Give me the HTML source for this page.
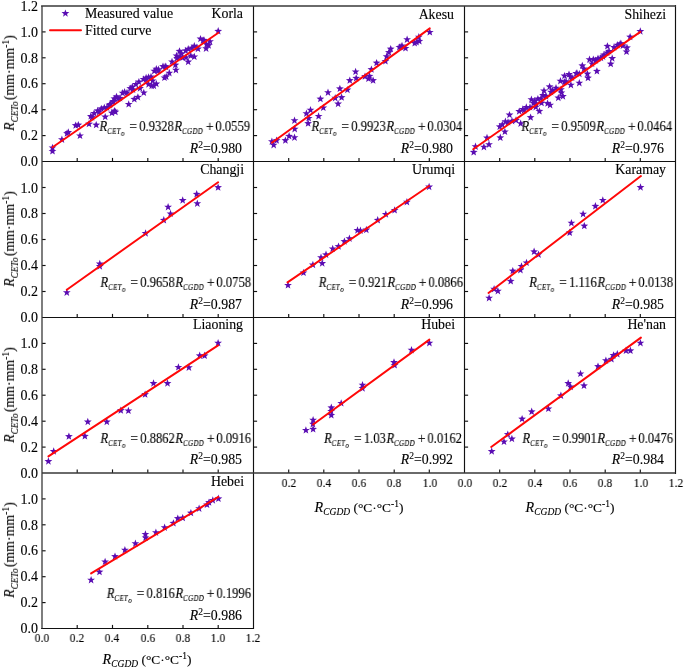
<!DOCTYPE html>
<html><head><meta charset="utf-8"><title>fig</title>
<style>
html,body{margin:0;padding:0;background:#fff;}
body{width:685px;height:670px;position:relative;overflow:hidden;font-family:"Liberation Serif",serif;color:#000;}
.t{position:absolute;white-space:nowrap;will-change:transform;-webkit-text-stroke:0.12px #000;font-size:13.8px;line-height:16px;}
.nm{font-size:13.85px;}
.ax{font-size:13.85px;}
.tky{font-size:14px;}
.tkx{font-size:13.0px;}
.ax sub{font-size:11.2px;vertical-align:-2.8px;line-height:0;}
.xt{font-size:13.4px;}
.xt i{font-size:14.2px;}
.xt sub{font-size:9.3px;vertical-align:-3px;}
.xt sub i{font-size:9.5px;}
.xt sup{font-size:9px;}
.ax sup{font-size:9.5px;vertical-align:5px;line-height:0;}
.ax sub.ys{font-size:9.3px;vertical-align:-3.9px;}
.eq{font-size:13.6px;color:#000;transform-origin:100% 100%;-webkit-text-stroke:0.12px #000;}
.eq sub.s1a{letter-spacing:0.05px;}
.eq sub.s1b{letter-spacing:0.7px;}
.op1,.op2{font-size:15px;line-height:0;}
.op1{margin:0 2.4px 0 5.0px;}
.op2{margin:0 2.0px 0 2.9px;}
.r2i{margin-left:0.6px;}
.eq sub.s1{font-size:7.5px;vertical-align:-3.3px;line-height:0;letter-spacing:0.35px;}
.eq sub.s2{font-size:7.4px;vertical-align:-2.1px;line-height:0;}
.r2 sup{font-size:9.5px;vertical-align:5px;line-height:0;}
</style></head><body>
<svg width="685" height="670" viewBox="0 0 685 670" style="position:absolute;left:0;top:0">
<rect width="685" height="670" fill="#fff"/>
<g fill="#5a0db3">
<polygon points="52.5,143.8 53.5,146.4 56.4,146.5 54.1,148.3 54.9,151.1 52.5,149.5 50.1,151.1 50.9,148.3 48.6,146.5 51.5,146.4"/>
<polygon points="52.5,147.2 53.5,149.9 56.4,150.0 54.1,151.8 54.9,154.6 52.5,153.0 50.1,154.6 50.9,151.8 48.6,150.0 51.5,149.9"/>
<polygon points="61.9,135.5 62.9,138.2 65.8,138.3 63.5,140.1 64.3,142.9 61.9,141.3 59.5,142.9 60.3,140.1 58.0,138.3 60.9,138.2"/>
<polygon points="68.3,128.2 69.3,130.9 72.2,131.0 69.9,132.8 70.7,135.6 68.3,134.0 65.9,135.6 66.7,132.8 64.4,131.0 67.3,130.9"/>
<polygon points="67.0,129.4 68.0,132.1 70.9,132.2 68.6,134.0 69.4,136.8 67.0,135.2 64.6,136.8 65.4,134.0 63.1,132.2 66.0,132.1"/>
<polygon points="75.7,121.5 76.7,124.1 79.6,124.2 77.3,126.0 78.1,128.8 75.7,127.2 73.3,128.8 74.1,126.0 71.8,124.2 74.7,124.1"/>
<polygon points="78.3,121.0 79.3,123.6 82.2,123.7 79.9,125.5 80.7,128.3 78.3,126.7 75.9,128.3 76.7,125.5 74.4,123.7 77.3,123.6"/>
<polygon points="80.0,131.8 81.0,134.4 83.9,134.5 81.6,136.3 82.4,139.1 80.0,137.5 77.6,139.1 78.4,136.3 76.1,134.5 79.0,134.4"/>
<polygon points="89.0,120.0 90.0,122.6 92.9,122.7 90.6,124.5 91.4,127.3 89.0,125.7 86.6,127.3 87.4,124.5 85.1,122.7 88.0,122.6"/>
<polygon points="90.8,112.2 91.8,114.9 94.7,115.0 92.4,116.8 93.2,119.6 90.8,118.0 88.4,119.6 89.2,116.8 86.9,115.0 89.8,114.9"/>
<polygon points="96.2,121.0 97.2,123.6 100.1,123.7 97.8,125.5 98.6,128.3 96.2,126.7 93.8,128.3 94.6,125.5 92.3,123.7 95.2,123.6"/>
<polygon points="94.1,109.2 95.1,111.9 98.0,112.0 95.7,113.8 96.5,116.6 94.1,115.0 91.7,116.6 92.5,113.8 90.2,112.0 93.1,111.9"/>
<polygon points="97.7,106.7 98.7,109.3 101.6,109.4 99.3,111.2 100.1,114.0 97.7,112.4 95.3,114.0 96.1,111.2 93.8,109.4 96.7,109.3"/>
<polygon points="101.3,104.7 102.3,107.3 105.2,107.4 102.9,109.2 103.7,112.0 101.3,110.4 98.9,112.0 99.7,109.2 97.4,107.4 100.3,107.3"/>
<polygon points="104.3,103.7 105.3,106.3 108.2,106.4 105.9,108.2 106.7,111.0 104.3,109.4 101.9,111.0 102.7,108.2 100.4,106.4 103.3,106.3"/>
<polygon points="105.2,112.9 106.2,115.5 109.1,115.6 106.8,117.4 107.6,120.2 105.2,118.6 102.8,120.2 103.6,117.4 101.3,115.6 104.2,115.5"/>
<polygon points="109.4,101.0 110.4,103.7 113.3,103.8 111.0,105.6 111.8,108.4 109.4,106.8 107.0,108.4 107.8,105.6 105.5,103.8 108.4,103.7"/>
<polygon points="111.9,109.0 112.9,111.6 115.8,111.7 113.5,113.5 114.3,116.3 111.9,114.7 109.5,116.3 110.3,113.5 108.0,111.7 110.9,111.6"/>
<polygon points="114.4,107.0 115.4,109.6 118.3,109.7 116.0,111.5 116.8,114.3 114.4,112.7 112.0,114.3 112.8,111.5 110.5,109.7 113.4,109.6"/>
<polygon points="115.4,108.0 116.4,110.6 119.3,110.7 117.0,112.5 117.8,115.3 115.4,113.7 113.0,115.3 113.8,112.5 111.5,110.7 114.4,110.6"/>
<polygon points="110.3,100.2 111.3,102.9 114.2,103.0 111.9,104.8 112.7,107.6 110.3,106.0 107.9,107.6 108.7,104.8 106.4,103.0 109.3,102.9"/>
<polygon points="114.4,94.7 115.4,97.3 118.3,97.4 116.0,99.2 116.8,102.0 114.4,100.4 112.0,102.0 112.8,99.2 110.5,97.4 113.4,97.3"/>
<polygon points="116.5,92.7 117.5,95.3 120.4,95.4 118.1,97.2 118.9,100.0 116.5,98.4 114.1,100.0 114.9,97.2 112.6,95.4 115.5,95.3"/>
<polygon points="118.0,94.7 119.0,97.3 121.9,97.4 119.6,99.2 120.4,102.0 118.0,100.4 115.6,102.0 116.4,99.2 114.1,97.4 117.0,97.3"/>
<polygon points="113.4,97.2 114.4,99.9 117.3,100.0 115.0,101.8 115.8,104.6 113.4,103.0 111.0,104.6 111.8,101.8 109.5,100.0 112.4,99.9"/>
<polygon points="122.6,89.0 123.6,91.7 126.5,91.8 124.2,93.6 125.0,96.4 122.6,94.8 120.2,96.4 121.0,93.6 118.7,91.8 121.6,91.7"/>
<polygon points="124.6,88.0 125.6,90.7 128.5,90.8 126.2,92.6 127.0,95.4 124.6,93.8 122.2,95.4 123.0,92.6 120.7,90.8 123.6,90.7"/>
<polygon points="128.7,100.2 129.7,102.9 132.6,103.0 130.3,104.8 131.1,107.6 128.7,106.0 126.3,107.6 127.1,104.8 124.8,103.0 127.7,102.9"/>
<polygon points="130.3,84.5 131.3,87.1 134.2,87.2 131.9,89.0 132.7,91.8 130.3,90.2 127.9,91.8 128.7,89.0 126.4,87.2 129.3,87.1"/>
<polygon points="132.3,83.0 133.3,85.6 136.2,85.7 133.9,87.5 134.7,90.3 132.3,88.7 129.9,90.3 130.7,87.5 128.4,85.7 131.3,85.6"/>
<polygon points="134.3,95.2 135.3,97.8 138.2,97.9 135.9,99.7 136.7,102.5 134.3,100.9 131.9,102.5 132.7,99.7 130.4,97.9 133.3,97.8"/>
<polygon points="137.9,93.2 138.9,95.8 141.8,95.9 139.5,97.7 140.3,100.5 137.9,98.9 135.5,100.5 136.3,97.7 134.0,95.9 136.9,95.8"/>
<polygon points="135.9,80.4 136.9,83.0 139.8,83.1 137.5,84.9 138.3,87.7 135.9,86.1 133.5,87.7 134.3,84.9 132.0,83.1 134.9,83.0"/>
<polygon points="138.9,77.9 139.9,80.5 142.8,80.6 140.5,82.4 141.3,85.2 138.9,83.6 136.5,85.2 137.3,82.4 135.0,80.6 137.9,80.5"/>
<polygon points="143.8,88.8 144.8,91.4 147.7,91.5 145.4,93.3 146.2,96.1 143.8,94.5 141.4,96.1 142.2,93.3 139.9,91.5 142.8,91.4"/>
<polygon points="143.5,75.2 144.5,77.9 147.4,78.0 145.1,79.8 145.9,82.6 143.5,81.0 141.1,82.6 141.9,79.8 139.6,78.0 142.5,77.9"/>
<polygon points="146.1,73.8 147.1,76.4 150.0,76.5 147.7,78.3 148.5,81.1 146.1,79.5 143.7,81.1 144.5,78.3 142.2,76.5 145.1,76.4"/>
<polygon points="148.6,73.2 149.6,75.9 152.5,76.0 150.2,77.8 151.0,80.6 148.6,79.0 146.2,80.6 147.0,77.8 144.7,76.0 147.6,75.9"/>
<polygon points="148.6,80.4 149.6,83.0 152.5,83.1 150.2,84.9 151.0,87.7 148.6,86.1 146.2,87.7 147.0,84.9 144.7,83.1 147.6,83.0"/>
<polygon points="151.7,81.9 152.7,84.5 155.6,84.6 153.3,86.4 154.1,89.2 151.7,87.6 149.3,89.2 150.1,86.4 147.8,84.6 150.7,84.5"/>
<polygon points="153.8,81.9 154.8,84.5 157.7,84.6 155.4,86.4 156.2,89.2 153.8,87.6 151.4,89.2 152.2,86.4 149.9,84.6 152.8,84.5"/>
<polygon points="156.3,79.9 157.3,82.5 160.2,82.6 157.9,84.4 158.7,87.2 156.3,85.6 153.9,87.2 154.7,84.4 152.4,82.6 155.3,82.5"/>
<polygon points="152.7,76.8 153.7,79.4 156.6,79.5 154.3,81.3 155.1,84.1 152.7,82.5 150.3,84.1 151.1,81.3 148.8,79.5 151.7,79.4"/>
<polygon points="154.3,67.0 155.3,69.7 158.2,69.8 155.9,71.6 156.7,74.4 154.3,72.8 151.9,74.4 152.7,71.6 150.4,69.8 153.3,69.7"/>
<polygon points="156.3,65.0 157.3,67.7 160.2,67.8 157.9,69.6 158.7,72.4 156.3,70.8 153.9,72.4 154.7,69.6 152.4,67.8 155.3,67.7"/>
<polygon points="158.4,65.5 159.4,68.2 162.3,68.3 160.0,70.1 160.8,72.9 158.4,71.3 156.0,72.9 156.8,70.1 154.5,68.3 157.4,68.2"/>
<polygon points="163.0,62.5 164.0,65.1 166.9,65.2 164.6,67.0 165.4,69.8 163.0,68.2 160.6,69.8 161.4,67.0 159.1,65.2 162.0,65.1"/>
<polygon points="164.5,73.8 165.5,76.4 168.4,76.5 166.1,78.3 166.9,81.1 164.5,79.5 162.1,81.1 162.9,78.3 160.6,76.5 163.5,76.4"/>
<polygon points="218.2,27.1 219.2,29.8 222.1,29.9 219.8,31.7 220.6,34.5 218.2,32.9 215.8,34.5 216.6,31.7 214.3,29.9 217.2,29.8"/>
<polygon points="200.5,34.9 201.5,37.5 204.4,37.6 202.1,39.4 202.9,42.2 200.5,40.6 198.1,42.2 198.9,39.4 196.6,37.6 199.5,37.5"/>
<polygon points="203.0,36.4 204.0,39.0 206.9,39.1 204.6,40.9 205.4,43.7 203.0,42.1 200.6,43.7 201.4,40.9 199.1,39.1 202.0,39.0"/>
<polygon points="206.6,40.5 207.6,43.1 210.5,43.2 208.2,45.0 209.0,47.8 206.6,46.2 204.2,47.8 205.0,45.0 202.7,43.2 205.6,43.1"/>
<polygon points="208.6,41.5 209.6,44.1 212.5,44.2 210.2,46.0 211.0,48.8 208.6,47.2 206.2,48.8 207.0,46.0 204.7,44.2 207.6,44.1"/>
<polygon points="206.1,44.6 207.1,47.2 210.0,47.3 207.7,49.1 208.5,51.9 206.1,50.3 203.7,51.9 204.5,49.1 202.2,47.3 205.1,47.2"/>
<polygon points="194.3,42.1 195.3,44.7 198.2,44.8 195.9,46.6 196.7,49.4 194.3,47.8 191.9,49.4 192.7,46.6 190.4,44.8 193.3,44.7"/>
<polygon points="196.9,43.6 197.9,46.2 200.8,46.3 198.5,48.1 199.3,50.9 196.9,49.3 194.5,50.9 195.3,48.1 193.0,46.3 195.9,46.2"/>
<polygon points="188.2,45.1 189.2,47.7 192.1,47.8 189.8,49.6 190.6,52.4 188.2,50.8 185.8,52.4 186.6,49.6 184.3,47.8 187.2,47.7"/>
<polygon points="185.7,46.7 186.7,49.3 189.6,49.4 187.3,51.2 188.1,54.0 185.7,52.4 183.3,54.0 184.1,51.2 181.8,49.4 184.7,49.3"/>
<polygon points="179.5,47.2 180.5,49.8 183.4,49.9 181.1,51.7 181.9,54.5 179.5,52.9 177.1,54.5 177.9,51.7 175.6,49.9 178.5,49.8"/>
<polygon points="181.6,49.7 182.6,52.3 185.5,52.4 183.2,54.2 184.0,57.0 181.6,55.4 179.2,57.0 180.0,54.2 177.7,52.4 180.6,52.3"/>
<polygon points="176.5,51.8 177.5,54.4 180.4,54.5 178.1,56.3 178.9,59.1 176.5,57.5 174.1,59.1 174.9,56.3 172.6,54.5 175.5,54.4"/>
<polygon points="177.0,54.2 178.0,56.9 180.9,57.0 178.6,58.8 179.4,61.6 177.0,60.0 174.6,61.6 175.4,58.8 173.1,57.0 176.0,56.9"/>
<polygon points="190.8,51.8 191.8,54.4 194.7,54.5 192.4,56.3 193.2,59.1 190.8,57.5 188.4,59.1 189.2,56.3 186.9,54.5 189.8,54.4"/>
<polygon points="194.3,52.8 195.3,55.4 198.2,55.5 195.9,57.3 196.7,60.1 194.3,58.5 191.9,60.1 192.7,57.3 190.4,55.5 193.3,55.4"/>
<polygon points="188.2,57.9 189.2,60.5 192.1,60.6 189.8,62.4 190.6,65.2 188.2,63.6 185.8,65.2 186.6,62.4 184.3,60.6 187.2,60.5"/>
<polygon points="165.2,62.5 166.2,65.1 169.1,65.2 166.8,67.0 167.6,69.8 165.2,68.2 162.8,69.8 163.6,67.0 161.3,65.2 164.2,65.1"/>
<polygon points="175.4,61.0 176.4,63.6 179.3,63.7 177.0,65.5 177.8,68.3 175.4,66.7 173.0,68.3 173.8,65.5 171.5,63.7 174.4,63.6"/>
<polygon points="175.9,66.0 176.9,68.7 179.8,68.8 177.5,70.6 178.3,73.4 175.9,71.8 173.5,73.4 174.3,70.6 172.0,68.8 174.9,68.7"/>
<polygon points="169.3,69.0 170.3,71.7 173.2,71.8 170.9,73.6 171.7,76.4 169.3,74.8 166.9,76.4 167.7,73.6 165.4,71.8 168.3,71.7"/>
<polygon points="166.2,72.7 167.2,75.3 170.1,75.4 167.8,77.2 168.6,80.0 166.2,78.4 163.8,80.0 164.6,77.2 162.3,75.4 165.2,75.3"/>
<polygon points="182.6,53.8 183.6,56.4 186.5,56.5 184.2,58.3 185.0,61.1 182.6,59.5 180.2,61.1 181.0,58.3 178.7,56.5 181.6,56.4"/>
<polygon points="92.0,113.5 93.0,116.1 95.9,116.2 93.6,118.0 94.4,120.8 92.0,119.2 89.6,120.8 90.4,118.0 88.1,116.2 91.0,116.1"/>
<polygon points="99.0,108.0 100.0,110.7 102.9,110.8 100.6,112.6 101.4,115.4 99.0,113.8 96.6,115.4 97.4,112.6 95.1,110.8 98.0,110.7"/>
<polygon points="107.0,103.5 108.0,106.2 110.9,106.3 108.6,108.1 109.4,110.9 107.0,109.3 104.6,110.9 105.4,108.1 103.1,106.3 106.0,106.2"/>
<polygon points="113.0,98.0 114.0,100.6 116.9,100.7 114.6,102.5 115.4,105.3 113.0,103.7 110.6,105.3 111.4,102.5 109.1,100.7 112.0,100.6"/>
<polygon points="120.0,94.2 121.0,96.8 123.9,96.9 121.6,98.7 122.4,101.5 120.0,99.9 117.6,101.5 118.4,98.7 116.1,96.9 119.0,96.8"/>
<polygon points="127.0,88.8 128.0,91.4 130.9,91.5 128.6,93.3 129.4,96.1 127.0,94.5 124.6,96.1 125.4,93.3 123.1,91.5 126.0,91.4"/>
<polygon points="133.0,85.7 134.0,88.3 136.9,88.4 134.6,90.2 135.4,93.0 133.0,91.4 130.6,93.0 131.4,90.2 129.1,88.4 132.0,88.3"/>
<polygon points="140.0,84.4 141.0,87.0 143.9,87.1 141.6,88.9 142.4,91.7 140.0,90.1 137.6,91.7 138.4,88.9 136.1,87.1 139.0,87.0"/>
<polygon points="146.0,75.7 147.0,78.3 149.9,78.4 147.6,80.2 148.4,83.0 146.0,81.4 143.6,83.0 144.4,80.2 142.1,78.4 145.0,78.3"/>
<polygon points="151.0,72.8 152.0,75.4 154.9,75.5 152.6,77.3 153.4,80.1 151.0,78.5 148.6,80.1 149.4,77.3 147.1,75.5 150.0,75.4"/>
<polygon points="158.0,67.0 159.0,69.6 161.9,69.7 159.6,71.5 160.4,74.3 158.0,72.7 155.6,74.3 156.4,71.5 154.1,69.7 157.0,69.6"/>
<polygon points="166.0,62.9 167.0,65.5 169.9,65.6 167.6,67.4 168.4,70.2 166.0,68.6 163.6,70.2 164.4,67.4 162.1,65.6 165.0,65.5"/>
<polygon points="172.0,57.8 173.0,60.4 175.9,60.5 173.6,62.3 174.4,65.1 172.0,63.5 169.6,65.1 170.4,62.3 168.1,60.5 171.0,60.4"/>
<polygon points="180.0,52.8 181.0,55.4 183.9,55.5 181.6,57.3 182.4,60.1 180.0,58.5 177.6,60.1 178.4,57.3 176.1,55.5 179.0,55.4"/>
<polygon points="186.0,53.6 187.0,56.2 189.9,56.3 187.6,58.1 188.4,60.9 186.0,59.3 183.6,60.9 184.4,58.1 182.1,56.3 185.0,56.2"/>
<polygon points="192.0,44.0 193.0,46.6 195.9,46.7 193.6,48.5 194.4,51.3 192.0,49.7 189.6,51.3 190.4,48.5 188.1,46.7 191.0,46.6"/>
<polygon points="198.0,44.9 199.0,47.5 201.9,47.6 199.6,49.4 200.4,52.2 198.0,50.6 195.6,52.2 196.4,49.4 194.1,47.6 197.0,47.5"/>
<polygon points="204.0,36.2 205.0,38.8 207.9,38.9 205.6,40.7 206.4,43.5 204.0,41.9 201.6,43.5 202.4,40.7 200.1,38.9 203.0,38.8"/>
<polygon points="210.0,37.6 211.0,40.2 213.9,40.3 211.6,42.1 212.4,44.9 210.0,43.3 207.6,44.9 208.4,42.1 206.1,40.3 209.0,40.2"/>
</g>
<line x1="52.5" y1="147.2" x2="218.4" y2="32.8" stroke="#ff0808" stroke-width="1.95" stroke-linecap="round"/>
<g fill="#5a0db3">
<polygon points="271.9,137.5 272.9,140.2 275.8,140.3 273.5,142.1 274.3,144.9 271.9,143.3 269.5,144.9 270.3,142.1 268.0,140.3 270.9,140.2"/>
<polygon points="276.6,136.4 277.6,139.1 280.5,139.2 278.2,141.0 279.0,143.8 276.6,142.2 274.2,143.8 275.0,141.0 272.7,139.2 275.6,139.1"/>
<polygon points="273.7,141.0 274.7,143.7 277.6,143.8 275.3,145.6 276.1,148.4 273.7,146.8 271.3,148.4 272.1,145.6 269.8,143.8 272.7,143.7"/>
<polygon points="285.4,136.4 286.4,139.1 289.3,139.2 287.0,141.0 287.8,143.8 285.4,142.2 283.0,143.8 283.8,141.0 281.5,139.2 284.4,139.1"/>
<polygon points="289.1,132.1 290.1,134.8 293.0,134.9 290.7,136.7 291.5,139.5 289.1,137.9 286.7,139.5 287.5,136.7 285.2,134.9 288.1,134.8"/>
<polygon points="294.5,133.5 295.5,136.2 298.4,136.3 296.1,138.1 296.9,140.9 294.5,139.3 292.1,140.9 292.9,138.1 290.6,136.3 293.5,136.2"/>
<polygon points="294.7,125.0 295.7,127.7 298.6,127.8 296.3,129.6 297.1,132.4 294.7,130.8 292.3,132.4 293.1,129.6 290.8,127.8 293.7,127.7"/>
<polygon points="294.5,116.5 295.5,119.2 298.4,119.3 296.1,121.1 296.9,123.9 294.5,122.3 292.1,123.9 292.9,121.1 290.6,119.3 293.5,119.2"/>
<polygon points="308.1,119.5 309.1,122.1 312.0,122.2 309.7,124.0 310.5,126.8 308.1,125.2 305.7,126.8 306.5,124.0 304.2,122.2 307.1,122.1"/>
<polygon points="308.7,114.2 309.7,116.9 312.6,117.0 310.3,118.8 311.1,121.6 308.7,120.0 306.3,121.6 307.1,118.8 304.8,117.0 307.7,116.9"/>
<polygon points="306.4,109.5 307.4,112.2 310.3,112.3 308.0,114.1 308.8,116.9 306.4,115.3 304.0,116.9 304.8,114.1 302.5,112.3 305.4,112.2"/>
<polygon points="310.5,106.0 311.5,108.7 314.4,108.8 312.1,110.6 312.9,113.4 310.5,111.8 308.1,113.4 308.9,110.6 306.6,108.8 309.5,108.7"/>
<polygon points="318.6,112.2 319.6,114.9 322.5,115.0 320.2,116.8 321.0,119.6 318.6,118.0 316.2,119.6 317.0,116.8 314.7,115.0 317.6,114.9"/>
<polygon points="323.3,103.8 324.3,106.4 327.2,106.5 324.9,108.3 325.7,111.1 323.3,109.5 320.9,111.1 321.7,108.3 319.4,106.5 322.3,106.4"/>
<polygon points="320.4,95.0 321.4,97.6 324.3,97.7 322.0,99.5 322.8,102.3 320.4,100.7 318.0,102.3 318.8,99.5 316.5,97.7 319.4,97.6"/>
<polygon points="328.0,88.5 329.0,91.2 331.9,91.3 329.6,93.1 330.4,95.9 328.0,94.3 325.6,95.9 326.4,93.1 324.1,91.3 327.0,91.2"/>
<polygon points="335.2,94.0 336.2,96.7 339.1,96.8 336.8,98.6 337.6,101.4 335.2,99.8 332.8,101.4 333.6,98.6 331.3,96.8 334.2,96.7"/>
<polygon points="341.6,93.5 342.6,96.1 345.5,96.2 343.2,98.0 344.0,100.8 341.6,99.2 339.2,100.8 340.0,98.0 337.7,96.2 340.6,96.1"/>
<polygon points="338.1,99.9 339.1,102.5 342.0,102.6 339.7,104.4 340.5,107.2 338.1,105.6 335.7,107.2 336.5,104.4 334.2,102.6 337.1,102.5"/>
<polygon points="339.9,84.7 340.9,87.3 343.8,87.4 341.5,89.2 342.3,92.0 339.9,90.4 337.5,92.0 338.3,89.2 336.0,87.4 338.9,87.3"/>
<polygon points="347.4,85.9 348.4,88.5 351.3,88.6 349.0,90.4 349.8,93.2 347.4,91.6 345.0,93.2 345.8,90.4 343.5,88.6 346.4,88.5"/>
<polygon points="349.8,76.5 350.8,79.1 353.7,79.2 351.4,81.0 352.2,83.8 349.8,82.2 347.4,83.8 348.2,81.0 345.9,79.2 348.8,79.1"/>
<polygon points="355.6,67.8 356.6,70.4 359.5,70.5 357.2,72.3 358.0,75.1 355.6,73.5 353.2,75.1 354.0,72.3 351.7,70.5 354.6,70.4"/>
<polygon points="356.2,74.2 357.2,76.8 360.1,76.9 357.8,78.7 358.6,81.5 356.2,79.9 353.8,81.5 354.6,78.7 352.3,76.9 355.2,76.8"/>
<polygon points="365.0,72.5 366.0,75.1 368.9,75.2 366.6,77.0 367.4,79.8 365.0,78.2 362.6,79.8 363.4,77.0 361.1,75.2 364.0,75.1"/>
<polygon points="368.5,74.8 369.5,77.4 372.4,77.5 370.1,79.3 370.9,82.1 368.5,80.5 366.1,82.1 366.9,79.3 364.6,77.5 367.5,77.4"/>
<polygon points="373.1,76.5 374.1,79.1 377.0,79.2 374.7,81.0 375.5,83.8 373.1,82.2 370.7,83.8 371.5,81.0 369.2,79.2 372.1,79.1"/>
<polygon points="371.4,65.5 372.4,68.1 375.3,68.2 373.0,70.0 373.8,72.8 371.4,71.2 369.0,72.8 369.8,70.0 367.5,68.2 370.4,68.1"/>
<polygon points="376.6,59.0 377.6,61.6 380.5,61.7 378.2,63.5 379.0,66.3 376.6,64.7 374.2,66.3 375.0,63.5 372.7,61.7 375.6,61.6"/>
<polygon points="385.4,57.2 386.4,59.9 389.3,60.0 387.0,61.8 387.8,64.6 385.4,63.0 383.0,64.6 383.8,61.8 381.5,60.0 384.4,59.9"/>
<polygon points="386.6,52.6 387.6,55.2 390.5,55.3 388.2,57.1 389.0,59.9 386.6,58.3 384.2,59.9 385.0,57.1 382.7,55.3 385.6,55.2"/>
<polygon points="388.9,48.5 389.9,51.1 392.8,51.2 390.5,53.0 391.3,55.8 388.9,54.2 386.5,55.8 387.3,53.0 385.0,51.2 387.9,51.1"/>
<polygon points="390.7,45.0 391.7,47.6 394.6,47.7 392.3,49.5 393.1,52.3 390.7,50.7 388.3,52.3 389.1,49.5 386.8,47.7 389.7,47.6"/>
<polygon points="399.4,43.2 400.4,45.9 403.3,46.0 401.0,47.8 401.8,50.6 399.4,49.0 397.0,50.6 397.8,47.8 395.5,46.0 398.4,45.9"/>
<polygon points="402.0,41.8 403.0,44.4 405.9,44.5 403.6,46.3 404.4,49.1 402.0,47.5 399.6,49.1 400.4,46.3 398.1,44.5 401.0,44.4"/>
<polygon points="405.5,44.2 406.5,46.9 409.4,47.0 407.1,48.8 407.9,51.6 405.5,50.0 403.1,51.6 403.9,48.8 401.6,47.0 404.5,46.9"/>
<polygon points="407.1,35.6 408.1,38.2 411.0,38.3 408.7,40.1 409.5,42.9 407.1,41.3 404.7,42.9 405.5,40.1 403.2,38.3 406.1,38.2"/>
<polygon points="418.8,33.1 419.8,35.7 422.7,35.8 420.4,37.6 421.2,40.4 418.8,38.8 416.4,40.4 417.2,37.6 414.9,35.8 417.8,35.7"/>
<polygon points="419.3,37.2 420.3,39.8 423.2,39.9 420.9,41.7 421.7,44.5 419.3,42.9 416.9,44.5 417.7,41.7 415.4,39.9 418.3,39.8"/>
<polygon points="414.7,39.2 415.7,41.8 418.6,41.9 416.3,43.7 417.1,46.5 414.7,44.9 412.3,46.5 413.1,43.7 410.8,41.9 413.7,41.8"/>
<polygon points="429.8,28.2 430.8,30.9 433.7,31.0 431.4,32.8 432.2,35.6 429.8,34.0 427.4,35.6 428.2,32.8 425.9,31.0 428.8,30.9"/>
<polygon points="401.0,43.0 402.0,45.6 404.9,45.7 402.6,47.5 403.4,50.3 401.0,48.7 398.6,50.3 399.4,47.5 397.1,45.7 400.0,45.6"/>
<polygon points="416.5,38.2 417.5,40.9 420.4,41.0 418.1,42.8 418.9,45.6 416.5,44.0 414.1,45.6 414.9,42.8 412.6,41.0 415.5,40.9"/>
<polygon points="369.5,72.2 370.5,74.8 373.4,74.9 371.1,76.7 371.9,79.5 369.5,77.9 367.1,79.5 367.9,76.7 365.6,74.9 368.5,74.8"/>
</g>
<line x1="271.9" y1="142.8" x2="429.8" y2="28.4" stroke="#ff0808" stroke-width="1.95" stroke-linecap="round"/>
<g fill="#5a0db3">
<polygon points="473.7,148.1 474.7,150.8 477.6,150.9 475.3,152.7 476.1,155.5 473.7,153.9 471.3,155.5 472.1,152.7 469.8,150.9 472.7,150.8"/>
<polygon points="483.9,143.0 484.9,145.7 487.8,145.8 485.5,147.6 486.3,150.4 483.9,148.8 481.5,150.4 482.3,147.6 480.0,145.8 482.9,145.7"/>
<polygon points="489.0,140.5 490.0,143.2 492.9,143.3 490.6,145.1 491.4,147.9 489.0,146.3 486.6,147.9 487.4,145.1 485.1,143.3 488.0,143.2"/>
<polygon points="487.0,133.8 488.0,136.5 490.9,136.6 488.6,138.4 489.4,141.2 487.0,139.6 484.6,141.2 485.4,138.4 483.1,136.6 486.0,136.5"/>
<polygon points="500.3,133.6 501.3,136.3 504.2,136.4 501.9,138.2 502.7,141.0 500.3,139.4 497.9,141.0 498.7,138.2 496.4,136.4 499.3,136.3"/>
<polygon points="504.9,127.8 505.9,130.4 508.8,130.5 506.5,132.3 507.3,135.1 504.9,133.5 502.5,135.1 503.3,132.3 501.0,130.5 503.9,130.4"/>
<polygon points="499.8,122.7 500.8,125.3 503.7,125.4 501.4,127.2 502.2,130.0 499.8,128.4 497.4,130.0 498.2,127.2 495.9,125.4 498.8,125.3"/>
<polygon points="502.3,120.5 503.3,123.2 506.2,123.3 503.9,125.1 504.7,127.9 502.3,126.3 499.9,127.9 500.7,125.1 498.4,123.3 501.3,123.2"/>
<polygon points="505.4,117.5 506.4,120.2 509.3,120.3 507.0,122.1 507.8,124.9 505.4,123.3 503.0,124.9 503.8,122.1 501.5,120.3 504.4,120.2"/>
<polygon points="509.5,110.9 510.5,113.5 513.4,113.6 511.1,115.4 511.9,118.2 509.5,116.6 507.1,118.2 507.9,115.4 505.6,113.6 508.5,113.5"/>
<polygon points="512.0,117.0 513.0,119.7 515.9,119.8 513.6,121.6 514.4,124.4 512.0,122.8 509.6,124.4 510.4,121.6 508.1,119.8 511.0,119.7"/>
<polygon points="520.7,119.5 521.7,122.2 524.6,122.3 522.3,124.1 523.1,126.9 520.7,125.3 518.3,126.9 519.1,124.1 516.8,122.3 519.7,122.2"/>
<polygon points="519.2,107.4 520.2,110.0 523.1,110.1 520.8,111.9 521.6,114.7 519.2,113.1 516.8,114.7 517.6,111.9 515.3,110.1 518.2,110.0"/>
<polygon points="522.8,105.2 523.8,107.9 526.7,108.0 524.4,109.8 525.2,112.6 522.8,111.0 520.4,112.6 521.2,109.8 518.9,108.0 521.8,107.9"/>
<polygon points="526.3,103.2 527.3,105.9 530.2,106.0 527.9,107.8 528.7,110.6 526.3,109.0 523.9,110.6 524.7,107.8 522.4,106.0 525.3,105.9"/>
<polygon points="530.6,113.5 531.6,116.1 534.5,116.2 532.2,118.0 533.0,120.8 530.6,119.2 528.2,120.8 529.0,118.0 526.7,116.2 529.6,116.1"/>
<polygon points="531.4,95.5 532.4,98.2 535.3,98.3 533.0,100.1 533.8,102.9 531.4,101.3 529.0,102.9 529.8,100.1 527.5,98.3 530.4,98.2"/>
<polygon points="533.5,99.2 534.5,101.8 537.4,101.9 535.1,103.7 535.9,106.5 533.5,104.9 531.1,106.5 531.9,103.7 529.6,101.9 532.5,101.8"/>
<polygon points="534.8,97.0 535.8,99.6 538.7,99.7 536.4,101.5 537.2,104.3 534.8,102.7 532.4,104.3 533.2,101.5 530.9,99.7 533.8,99.6"/>
<polygon points="537.9,94.9 538.9,97.5 541.8,97.6 539.5,99.4 540.3,102.2 537.9,100.6 535.5,102.2 536.3,99.4 534.0,97.6 536.9,97.5"/>
<polygon points="535.8,103.0 536.8,105.7 539.7,105.8 537.4,107.6 538.2,110.4 535.8,108.8 533.4,110.4 534.2,107.6 531.9,105.8 534.8,105.7"/>
<polygon points="539.4,107.2 540.4,109.8 543.3,109.9 541.0,111.7 541.8,114.5 539.4,112.9 537.0,114.5 537.8,111.7 535.5,109.9 538.4,109.8"/>
<polygon points="541.5,99.0 542.5,101.6 545.4,101.7 543.1,103.5 543.9,106.3 541.5,104.7 539.1,106.3 539.9,103.5 537.6,101.7 540.5,101.6"/>
<polygon points="544.0,86.8 545.0,89.4 547.9,89.5 545.6,91.3 546.4,94.1 544.0,92.5 541.6,94.1 542.4,91.3 540.1,89.5 543.0,89.4"/>
<polygon points="543.0,91.4 544.0,94.0 546.9,94.1 544.6,95.9 545.4,98.7 543.0,97.1 540.6,98.7 541.4,95.9 539.1,94.1 542.0,94.0"/>
<polygon points="547.6,99.5 548.6,102.1 551.5,102.2 549.2,104.0 550.0,106.8 547.6,105.2 545.2,106.8 546.0,104.0 543.7,102.2 546.6,102.1"/>
<polygon points="550.1,101.0 551.1,103.7 554.0,103.8 551.7,105.6 552.5,108.4 550.1,106.8 547.7,108.4 548.5,105.6 546.2,103.8 549.1,103.7"/>
<polygon points="549.6,82.7 550.6,85.3 553.5,85.4 551.2,87.2 552.0,90.0 549.6,88.4 547.2,90.0 548.0,87.2 545.7,85.4 548.6,85.3"/>
<polygon points="552.7,86.2 553.7,88.9 556.6,89.0 554.3,90.8 555.1,93.6 552.7,92.0 550.3,93.6 551.1,90.8 548.8,89.0 551.7,88.9"/>
<polygon points="558.3,93.9 559.3,96.5 562.2,96.6 559.9,98.4 560.7,101.2 558.3,99.6 555.9,101.2 556.7,98.4 554.4,96.6 557.3,96.5"/>
<polygon points="562.9,92.4 563.9,95.0 566.8,95.1 564.5,96.9 565.3,99.7 562.9,98.1 560.5,99.7 561.3,96.9 559.0,95.1 561.9,95.0"/>
<polygon points="561.4,88.8 562.4,91.4 565.3,91.5 563.0,93.3 563.8,96.1 561.4,94.5 559.0,96.1 559.8,93.3 557.5,91.5 560.4,91.4"/>
<polygon points="560.4,77.0 561.4,79.7 564.3,79.8 562.0,81.6 562.8,84.4 560.4,82.8 558.0,84.4 558.8,81.6 556.5,79.8 559.4,79.7"/>
<polygon points="564.5,78.0 565.5,80.7 568.4,80.8 566.1,82.6 566.9,85.4 564.5,83.8 562.1,85.4 562.9,82.6 560.6,80.8 563.5,80.7"/>
<polygon points="564.5,71.9 565.5,74.5 568.4,74.6 566.1,76.4 566.9,79.2 564.5,77.6 562.1,79.2 562.9,76.4 560.6,74.6 563.5,74.5"/>
<polygon points="569.0,70.4 570.0,73.0 572.9,73.1 570.6,74.9 571.4,77.7 569.0,76.1 566.6,77.7 567.4,74.9 565.1,73.1 568.0,73.0"/>
<polygon points="570.6,73.0 571.6,75.6 574.5,75.7 572.2,77.5 573.0,80.3 570.6,78.7 568.2,80.3 569.0,77.5 566.7,75.7 569.6,75.6"/>
<polygon points="570.9,81.0 571.9,83.7 574.8,83.8 572.5,85.6 573.3,88.4 570.9,86.8 568.5,88.4 569.3,85.6 567.0,83.8 569.9,83.7"/>
<polygon points="576.2,69.4 577.2,72.0 580.1,72.1 577.8,73.9 578.6,76.7 576.2,75.1 573.8,76.7 574.6,73.9 572.3,72.1 575.2,72.0"/>
<polygon points="579.3,69.9 580.3,72.5 583.2,72.6 580.9,74.4 581.7,77.2 579.3,75.6 576.9,77.2 577.7,74.4 575.4,72.6 578.3,72.5"/>
<polygon points="579.3,79.0 580.3,81.7 583.2,81.8 580.9,83.6 581.7,86.4 579.3,84.8 576.9,86.4 577.7,83.6 575.4,81.8 578.3,81.7"/>
<polygon points="582.3,61.7 583.3,64.3 586.2,64.4 583.9,66.2 584.7,69.0 582.3,67.4 579.9,69.0 580.7,66.2 578.4,64.4 581.3,64.3"/>
<polygon points="587.4,69.9 588.4,72.5 591.3,72.6 589.0,74.4 589.8,77.2 587.4,75.6 585.0,77.2 585.8,74.4 583.5,72.6 586.4,72.5"/>
<polygon points="588.0,74.0 589.0,76.6 591.9,76.7 589.6,78.5 590.4,81.3 588.0,79.7 585.6,81.3 586.4,78.5 584.1,76.7 587.0,76.6"/>
<polygon points="589.5,55.6 590.5,58.2 593.4,58.3 591.1,60.1 591.9,62.9 589.5,61.3 587.1,62.9 587.9,60.1 585.6,58.3 588.5,58.2"/>
<polygon points="640.3,27.3 641.3,30.0 644.2,30.1 641.9,31.9 642.7,34.7 640.3,33.1 637.9,34.7 638.7,31.9 636.4,30.1 639.3,30.0"/>
<polygon points="630.1,33.0 631.1,35.6 634.0,35.7 631.7,37.5 632.5,40.3 630.1,38.7 627.7,40.3 628.5,37.5 626.2,35.7 629.1,35.6"/>
<polygon points="627.0,43.7 628.0,46.3 630.9,46.4 628.6,48.2 629.4,51.0 627.0,49.4 624.6,51.0 625.4,48.2 623.1,46.4 626.0,46.3"/>
<polygon points="626.5,47.8 627.5,50.4 630.4,50.5 628.1,52.3 628.9,55.1 626.5,53.5 624.1,55.1 624.9,52.3 622.6,50.5 625.5,50.4"/>
<polygon points="617.3,41.1 618.3,43.7 621.2,43.8 618.9,45.6 619.7,48.4 617.3,46.8 614.9,48.4 615.7,45.6 613.4,43.8 616.3,43.7"/>
<polygon points="620.9,39.6 621.9,42.2 624.8,42.3 622.5,44.1 623.3,46.9 620.9,45.3 618.5,46.9 619.3,44.1 617.0,42.3 619.9,42.2"/>
<polygon points="622.9,41.7 623.9,44.3 626.8,44.4 624.5,46.2 625.3,49.0 622.9,47.4 620.5,49.0 621.3,46.2 619.0,44.4 621.9,44.3"/>
<polygon points="607.4,42.2 608.4,44.8 611.3,44.9 609.0,46.7 609.8,49.5 607.4,47.9 605.0,49.5 605.8,46.7 603.5,44.9 606.4,44.8"/>
<polygon points="607.1,48.8 608.1,51.4 611.0,51.5 608.7,53.3 609.5,56.1 607.1,54.5 604.7,56.1 605.5,53.3 603.2,51.5 606.1,51.4"/>
<polygon points="604.0,50.9 605.0,53.5 607.9,53.6 605.6,55.4 606.4,58.2 604.0,56.6 601.6,58.2 602.4,55.4 600.1,53.6 603.0,53.5"/>
<polygon points="612.2,54.4 613.2,57.0 616.1,57.1 613.8,58.9 614.6,61.7 612.2,60.1 609.8,61.7 610.6,58.9 608.3,57.1 611.2,57.0"/>
<polygon points="610.7,60.0 611.7,62.6 614.6,62.7 612.3,64.5 613.1,67.3 610.7,65.7 608.3,67.3 609.1,64.5 606.8,62.7 609.7,62.6"/>
<polygon points="600.9,53.9 601.9,56.5 604.8,56.6 602.5,58.4 603.3,61.2 600.9,59.6 598.5,61.2 599.3,58.4 597.0,56.6 599.9,56.5"/>
<polygon points="593.3,55.5 594.3,58.1 597.2,58.2 594.9,60.0 595.7,62.8 593.3,61.2 590.9,62.8 591.7,60.0 589.4,58.2 592.3,58.1"/>
<polygon points="595.8,56.5 596.8,59.1 599.7,59.2 597.4,61.0 598.2,63.8 595.8,62.2 593.4,63.8 594.2,61.0 591.9,59.2 594.8,59.1"/>
<polygon points="596.9,67.2 597.9,69.8 600.8,69.9 598.5,71.7 599.3,74.5 596.9,72.9 594.5,74.5 595.3,71.7 593.0,69.9 595.9,69.8"/>
<polygon points="475.5,142.5 476.5,145.2 479.4,145.3 477.1,147.1 477.9,149.9 475.5,148.3 473.1,149.9 473.9,147.1 471.6,145.3 474.5,145.2"/>
<polygon points="508.0,118.2 509.0,120.9 511.9,121.0 509.6,122.8 510.4,125.6 508.0,124.0 505.6,125.6 506.4,122.8 504.1,121.0 507.0,120.9"/>
<polygon points="516.0,116.2 517.0,118.8 519.9,118.9 517.6,120.7 518.4,123.5 516.0,121.9 513.6,123.5 514.4,120.7 512.1,118.9 515.0,118.8"/>
<polygon points="524.0,106.5 525.0,109.1 527.9,109.2 525.6,111.0 526.4,113.8 524.0,112.2 521.6,113.8 522.4,111.0 520.1,109.2 523.0,109.1"/>
<polygon points="530.0,103.2 531.0,105.9 533.9,106.0 531.6,107.8 532.4,110.6 530.0,109.0 527.6,110.6 528.4,107.8 526.1,106.0 529.0,105.9"/>
<polygon points="536.0,99.5 537.0,102.2 539.9,102.3 537.6,104.1 538.4,106.9 536.0,105.3 533.6,106.9 534.4,104.1 532.1,102.3 535.0,102.2"/>
<polygon points="541.0,94.5 542.0,97.2 544.9,97.3 542.6,99.1 543.4,101.9 541.0,100.3 538.6,101.9 539.4,99.1 537.1,97.3 540.0,97.2"/>
<polygon points="546.0,92.0 547.0,94.7 549.9,94.8 547.6,96.6 548.4,99.4 546.0,97.8 543.6,99.4 544.4,96.6 542.1,94.8 545.0,94.7"/>
<polygon points="551.0,88.0 552.0,90.7 554.9,90.8 552.6,92.6 553.4,95.4 551.0,93.8 548.6,95.4 549.4,92.6 547.1,90.8 550.0,90.7"/>
<polygon points="556.0,84.0 557.0,86.7 559.9,86.8 557.6,88.6 558.4,91.4 556.0,89.8 553.6,91.4 554.4,88.6 552.1,86.8 555.0,86.7"/>
<polygon points="561.0,85.5 562.0,88.2 564.9,88.3 562.6,90.1 563.4,92.9 561.0,91.3 558.6,92.9 559.4,90.1 557.1,88.3 560.0,88.2"/>
<polygon points="566.0,77.5 567.0,80.2 569.9,80.3 567.6,82.1 568.4,84.9 566.0,83.3 563.6,84.9 564.4,82.1 562.1,80.3 565.0,80.2"/>
<polygon points="572.0,73.8 573.0,76.4 575.9,76.5 573.6,78.3 574.4,81.1 572.0,79.5 569.6,81.1 570.4,78.3 568.1,76.5 571.0,76.4"/>
<polygon points="577.0,69.2 578.0,71.9 580.9,72.0 578.6,73.8 579.4,76.6 577.0,75.0 574.6,76.6 575.4,73.8 573.1,72.0 576.0,71.9"/>
<polygon points="584.0,64.9 585.0,67.5 587.9,67.6 585.6,69.4 586.4,72.2 584.0,70.6 581.6,72.2 582.4,69.4 580.1,67.6 583.0,67.5"/>
<polygon points="592.0,59.8 593.0,62.4 595.9,62.5 593.6,64.3 594.4,67.1 592.0,65.5 589.6,67.1 590.4,64.3 588.1,62.5 591.0,62.4"/>
<polygon points="598.0,54.6 599.0,57.2 601.9,57.3 599.6,59.1 600.4,61.9 598.0,60.3 595.6,61.9 596.4,59.1 594.1,57.3 597.0,57.2"/>
<polygon points="603.0,52.6 604.0,55.2 606.9,55.3 604.6,57.1 605.4,59.9 603.0,58.3 600.6,59.9 601.4,57.1 599.1,55.3 602.0,55.2"/>
<polygon points="609.0,47.4 610.0,50.0 612.9,50.1 610.6,51.9 611.4,54.7 609.0,53.1 606.6,54.7 607.4,51.9 605.1,50.1 608.0,50.0"/>
<polygon points="614.0,43.4 615.0,46.0 617.9,46.1 615.6,47.9 616.4,50.7 614.0,49.1 611.6,50.7 612.4,47.9 610.1,46.1 613.0,46.0"/>
<polygon points="620.0,40.2 621.0,42.8 623.9,42.9 621.6,44.7 622.4,47.5 620.0,45.9 617.6,47.5 618.4,44.7 616.1,42.9 619.0,42.8"/>
</g>
<line x1="473.2" y1="149.2" x2="640.3" y2="31.9" stroke="#ff0808" stroke-width="1.95" stroke-linecap="round"/>
<g fill="#5a0db3">
<polygon points="66.8,288.6 67.8,291.2 70.7,291.3 68.4,293.1 69.2,295.9 66.8,294.3 64.4,295.9 65.2,293.1 62.9,291.3 65.8,291.2"/>
<polygon points="99.8,259.8 100.8,262.5 103.7,262.6 101.4,264.4 102.2,267.2 99.8,265.6 97.4,267.2 98.2,264.4 95.9,262.6 98.8,262.5"/>
<polygon points="99.8,262.3 100.8,265.0 103.7,265.1 101.4,266.9 102.2,269.7 99.8,268.1 97.4,269.7 98.2,266.9 95.9,265.1 98.8,265.0"/>
<polygon points="145.6,229.3 146.6,232.0 149.5,232.1 147.2,233.9 148.0,236.7 145.6,235.1 143.2,236.7 144.0,233.9 141.7,232.1 144.6,232.0"/>
<polygon points="163.8,216.1 164.8,218.8 167.7,218.9 165.4,220.7 166.2,223.5 163.8,221.9 161.4,223.5 162.2,220.7 159.9,218.9 162.8,218.8"/>
<polygon points="170.5,209.8 171.5,212.4 174.4,212.5 172.1,214.3 172.9,217.1 170.5,215.5 168.1,217.1 168.9,214.3 166.6,212.5 169.5,212.4"/>
<polygon points="168.1,203.0 169.1,205.7 172.0,205.8 169.7,207.6 170.5,210.4 168.1,208.8 165.7,210.4 166.5,207.6 164.2,205.8 167.1,205.7"/>
<polygon points="182.7,196.3 183.7,199.0 186.6,199.1 184.3,200.9 185.1,203.7 182.7,202.1 180.3,203.7 181.1,200.9 178.8,199.1 181.7,199.0"/>
<polygon points="196.7,190.1 197.7,192.8 200.6,192.9 198.3,194.7 199.1,197.5 196.7,195.9 194.3,197.5 195.1,194.7 192.8,192.9 195.7,192.8"/>
<polygon points="197.3,199.5 198.3,202.2 201.2,202.3 198.9,204.1 199.7,206.9 197.3,205.3 194.9,206.9 195.7,204.1 193.4,202.3 196.3,202.2"/>
<polygon points="218.1,183.4 219.1,186.1 222.0,186.2 219.7,188.0 220.5,190.8 218.1,189.2 215.7,190.8 216.5,188.0 214.2,186.2 217.1,186.1"/>
</g>
<line x1="66.8" y1="289.7" x2="218.1" y2="182.3" stroke="#ff0808" stroke-width="1.95" stroke-linecap="round"/>
<g fill="#5a0db3">
<polygon points="288.0,281.2 289.0,283.9 291.9,284.0 289.6,285.8 290.4,288.6 288.0,287.0 285.6,288.6 286.4,285.8 284.1,284.0 287.0,283.9"/>
<polygon points="303.5,268.8 304.5,271.4 307.4,271.5 305.1,273.3 305.9,276.1 303.5,274.5 301.1,276.1 301.9,273.3 299.6,271.5 302.5,271.4"/>
<polygon points="312.9,260.8 313.9,263.5 316.8,263.6 314.5,265.4 315.3,268.2 312.9,266.6 310.5,268.2 311.3,265.4 309.0,263.6 311.9,263.5"/>
<polygon points="322.2,259.3 323.2,262.0 326.1,262.1 323.8,263.9 324.6,266.7 322.2,265.1 319.8,266.7 320.6,263.9 318.3,262.1 321.2,262.0"/>
<polygon points="321.0,253.6 322.0,256.2 324.9,256.3 322.6,258.1 323.4,260.9 321.0,259.3 318.6,260.9 319.4,258.1 317.1,256.3 320.0,256.2"/>
<polygon points="326.0,250.6 327.0,253.3 329.9,253.4 327.6,255.2 328.4,258.0 326.0,256.4 323.6,258.0 324.4,255.2 322.1,253.4 325.0,253.3"/>
<polygon points="332.7,244.8 333.7,247.4 336.6,247.5 334.3,249.3 335.1,252.1 332.7,250.5 330.3,252.1 331.1,249.3 328.8,247.5 331.7,247.4"/>
<polygon points="338.5,242.4 339.5,245.1 342.4,245.2 340.1,247.0 340.9,249.8 338.5,248.2 336.1,249.8 336.9,247.0 334.6,245.2 337.5,245.1"/>
<polygon points="344.4,237.4 345.4,240.1 348.3,240.2 346.0,242.0 346.8,244.8 344.4,243.2 342.0,244.8 342.8,242.0 340.5,240.2 343.4,240.1"/>
<polygon points="349.4,234.5 350.4,237.2 353.3,237.3 351.0,239.1 351.8,241.9 349.4,240.3 347.0,241.9 347.8,239.1 345.5,237.3 348.4,237.2"/>
<polygon points="357.5,226.3 358.5,229.0 361.4,229.1 359.1,230.9 359.9,233.7 357.5,232.1 355.1,233.7 355.9,230.9 353.6,229.1 356.5,229.0"/>
<polygon points="360.4,226.6 361.4,229.3 364.3,229.4 362.0,231.2 362.8,234.0 360.4,232.4 358.0,234.0 358.8,231.2 356.5,229.4 359.4,229.3"/>
<polygon points="366.3,225.8 367.3,228.5 370.2,228.6 367.9,230.4 368.7,233.2 366.3,231.6 363.9,233.2 364.7,230.4 362.4,228.6 365.3,228.5"/>
<polygon points="377.7,216.1 378.7,218.8 381.6,218.9 379.3,220.7 380.1,223.5 377.7,221.9 375.3,223.5 376.1,220.7 373.8,218.9 376.7,218.8"/>
<polygon points="385.8,210.3 386.8,213.0 389.7,213.1 387.4,214.9 388.2,217.7 385.8,216.1 383.4,217.7 384.2,214.9 381.9,213.1 384.8,213.0"/>
<polygon points="394.6,206.2 395.6,208.9 398.5,209.0 396.2,210.8 397.0,213.6 394.6,212.0 392.2,213.6 393.0,210.8 390.7,209.0 393.6,208.9"/>
<polygon points="406.9,198.0 407.9,200.7 410.8,200.8 408.5,202.6 409.3,205.4 406.9,203.8 404.5,205.4 405.3,202.6 403.0,200.8 405.9,200.7"/>
<polygon points="429.1,182.8 430.1,185.5 433.0,185.6 430.7,187.4 431.5,190.2 429.1,188.6 426.7,190.2 427.5,187.4 425.2,185.6 428.1,185.5"/>
</g>
<line x1="287.5" y1="282.4" x2="429.0" y2="186.0" stroke="#ff0808" stroke-width="1.95" stroke-linecap="round"/>
<g fill="#5a0db3">
<polygon points="489.1,294.1 490.1,296.7 493.0,296.8 490.7,298.6 491.5,301.4 489.1,299.8 486.7,301.4 487.5,298.6 485.2,296.8 488.1,296.7"/>
<polygon points="494.1,285.1 495.1,287.7 498.0,287.8 495.7,289.6 496.5,292.4 494.1,290.8 491.7,292.4 492.5,289.6 490.2,287.8 493.1,287.7"/>
<polygon points="497.9,287.1 498.9,289.7 501.8,289.8 499.5,291.6 500.3,294.4 497.9,292.8 495.5,294.4 496.3,291.6 494.0,289.8 496.9,289.7"/>
<polygon points="510.7,277.1 511.7,279.8 514.6,279.9 512.3,281.7 513.1,284.5 510.7,282.9 508.3,284.5 509.1,281.7 506.8,279.9 509.7,279.8"/>
<polygon points="512.8,266.9 513.8,269.6 516.7,269.7 514.4,271.5 515.2,274.3 512.8,272.7 510.4,274.3 511.2,271.5 508.9,269.7 511.8,269.6"/>
<polygon points="520.4,266.1 521.4,268.7 524.3,268.8 522.0,270.6 522.8,273.4 520.4,271.8 518.0,273.4 518.8,270.6 516.5,268.8 519.4,268.7"/>
<polygon points="521.5,262.2 522.5,264.9 525.4,265.0 523.1,266.8 523.9,269.6 521.5,268.0 519.1,269.6 519.9,266.8 517.6,265.0 520.5,264.9"/>
<polygon points="526.5,258.8 527.5,261.4 530.4,261.5 528.1,263.3 528.9,266.1 526.5,264.5 524.1,266.1 524.9,263.3 522.6,261.5 525.5,261.4"/>
<polygon points="534.1,247.6 535.1,250.3 538.0,250.4 535.7,252.2 536.5,255.0 534.1,253.4 531.7,255.0 532.5,252.2 530.2,250.4 533.1,250.3"/>
<polygon points="538.5,250.5 539.5,253.2 542.4,253.3 540.1,255.1 540.9,257.9 538.5,256.3 536.1,257.9 536.9,255.1 534.6,253.3 537.5,253.2"/>
<polygon points="569.7,228.6 570.7,231.3 573.6,231.4 571.3,233.2 572.1,236.0 569.7,234.4 567.3,236.0 568.1,233.2 565.8,231.4 568.7,231.3"/>
<polygon points="571.4,219.0 572.4,221.7 575.3,221.8 573.0,223.6 573.8,226.4 571.4,224.8 569.0,226.4 569.8,223.6 567.5,221.8 570.4,221.7"/>
<polygon points="584.3,221.9 585.3,224.6 588.2,224.7 585.9,226.5 586.7,229.3 584.3,227.7 581.9,229.3 582.7,226.5 580.4,224.7 583.3,224.6"/>
<polygon points="583.1,210.0 584.1,212.7 587.0,212.8 584.7,214.6 585.5,217.4 583.1,215.8 580.7,217.4 581.5,214.6 579.2,212.8 582.1,212.7"/>
<polygon points="595.4,202.1 596.4,204.8 599.3,204.9 597.0,206.7 597.8,209.5 595.4,207.9 593.0,209.5 593.8,206.7 591.5,204.9 594.4,204.8"/>
<polygon points="602.8,196.2 603.8,198.9 606.7,199.0 604.4,200.8 605.2,203.6 602.8,202.0 600.4,203.6 601.2,200.8 598.9,199.0 601.8,198.9"/>
<polygon points="640.5,183.3 641.5,186.0 644.4,186.1 642.1,187.9 642.9,190.7 640.5,189.1 638.1,190.7 638.9,187.9 636.6,186.1 639.5,186.0"/>
</g>
<line x1="488.5" y1="292.9" x2="640.9" y2="176.1" stroke="#ff0808" stroke-width="1.95" stroke-linecap="round"/>
<g fill="#5a0db3">
<polygon points="48.4,457.3 49.4,460.0 52.3,460.1 50.0,461.9 50.8,464.7 48.4,463.1 46.0,464.7 46.8,461.9 44.5,460.1 47.4,460.0"/>
<polygon points="53.7,447.3 54.7,450.0 57.6,450.1 55.3,451.9 56.1,454.7 53.7,453.1 51.3,454.7 52.1,451.9 49.8,450.1 52.7,450.0"/>
<polygon points="68.9,432.4 69.9,435.1 72.8,435.2 70.5,437.0 71.3,439.8 68.9,438.2 66.5,439.8 67.3,437.0 65.0,435.2 67.9,435.1"/>
<polygon points="84.9,432.1 85.9,434.8 88.8,434.9 86.5,436.7 87.3,439.5 84.9,437.9 82.5,439.5 83.3,436.7 81.0,434.9 83.9,434.8"/>
<polygon points="87.8,417.8 88.8,420.5 91.7,420.6 89.4,422.4 90.2,425.2 87.8,423.6 85.4,425.2 86.2,422.4 83.9,420.6 86.8,420.5"/>
<polygon points="106.8,417.8 107.8,420.5 110.7,420.6 108.4,422.4 109.2,425.2 106.8,423.6 104.4,425.2 105.2,422.4 102.9,420.6 105.8,420.5"/>
<polygon points="120.8,406.4 121.8,409.1 124.7,409.2 122.4,411.0 123.2,413.8 120.8,412.2 118.4,413.8 119.2,411.0 116.9,409.2 119.8,409.1"/>
<polygon points="128.4,406.8 129.4,409.4 132.3,409.5 130.0,411.3 130.8,414.1 128.4,412.5 126.0,414.1 126.8,411.3 124.5,409.5 127.4,409.4"/>
<polygon points="145.1,390.4 146.1,393.1 149.0,393.2 146.7,395.0 147.5,397.8 145.1,396.2 142.7,397.8 143.5,395.0 141.2,393.2 144.1,393.1"/>
<polygon points="153.5,379.3 154.5,382.0 157.4,382.1 155.1,383.9 155.9,386.7 153.5,385.1 151.1,386.7 151.9,383.9 149.6,382.1 152.5,382.0"/>
<polygon points="167.5,379.3 168.5,382.0 171.4,382.1 169.1,383.9 169.9,386.7 167.5,385.1 165.1,386.7 165.9,383.9 163.6,382.1 166.5,382.0"/>
<polygon points="178.4,363.2 179.4,365.9 182.3,366.0 180.0,367.8 180.8,370.6 178.4,369.0 176.0,370.6 176.8,367.8 174.5,366.0 177.4,365.9"/>
<polygon points="188.9,363.6 189.9,366.2 192.8,366.3 190.5,368.1 191.3,370.9 188.9,369.3 186.5,370.9 187.3,368.1 185.0,366.3 187.9,366.2"/>
<polygon points="199.7,351.6 200.7,354.3 203.6,354.4 201.3,356.2 202.1,359.0 199.7,357.4 197.3,359.0 198.1,356.2 195.8,354.4 198.7,354.3"/>
<polygon points="204.6,351.6 205.6,354.3 208.5,354.4 206.2,356.2 207.0,359.0 204.6,357.4 202.2,359.0 203.0,356.2 200.7,354.4 203.6,354.3"/>
<polygon points="218.1,339.1 219.1,341.7 222.0,341.8 219.7,343.6 220.5,346.4 218.1,344.8 215.7,346.4 216.5,343.6 214.2,341.8 217.1,341.7"/>
</g>
<line x1="48.4" y1="456.4" x2="218.1" y2="345.4" stroke="#ff0808" stroke-width="1.95" stroke-linecap="round"/>
<g fill="#5a0db3">
<polygon points="305.9,426.2 306.9,428.9 309.8,429.0 307.5,430.8 308.3,433.6 305.9,432.0 303.5,433.6 304.3,430.8 302.0,429.0 304.9,428.9"/>
<polygon points="313.1,425.1 314.1,427.8 317.0,427.9 314.7,429.7 315.5,432.5 313.1,430.9 310.7,432.5 311.5,429.7 309.2,427.9 312.1,427.8"/>
<polygon points="312.9,420.1 313.9,422.7 316.8,422.8 314.5,424.6 315.3,427.4 312.9,425.8 310.5,427.4 311.3,424.6 309.0,422.8 311.9,422.7"/>
<polygon points="313.1,416.1 314.1,418.7 317.0,418.8 314.7,420.6 315.5,423.4 313.1,421.8 310.7,423.4 311.5,420.6 309.2,418.8 312.1,418.7"/>
<polygon points="331.3,411.2 332.3,413.9 335.2,414.0 332.9,415.8 333.7,418.6 331.3,417.0 328.9,418.6 329.7,415.8 327.4,414.0 330.3,413.9"/>
<polygon points="331.1,407.2 332.1,409.9 335.0,410.0 332.7,411.8 333.5,414.6 331.1,413.0 328.7,414.6 329.5,411.8 327.2,410.0 330.1,409.9"/>
<polygon points="331.3,403.6 332.3,406.3 335.2,406.4 332.9,408.2 333.7,411.0 331.3,409.4 328.9,411.0 329.7,408.2 327.4,406.4 330.3,406.3"/>
<polygon points="341.2,399.2 342.2,401.9 345.1,402.0 342.8,403.8 343.6,406.6 341.2,405.0 338.8,406.6 339.6,403.8 337.3,402.0 340.2,401.9"/>
<polygon points="362.5,384.3 363.5,387.0 366.4,387.1 364.1,388.9 364.9,391.7 362.5,390.1 360.1,391.7 360.9,388.9 358.6,387.1 361.5,387.0"/>
<polygon points="362.5,381.1 363.5,383.7 366.4,383.8 364.1,385.6 364.9,388.4 362.5,386.8 360.1,388.4 360.9,385.6 358.6,383.8 361.5,383.7"/>
<polygon points="394.0,358.3 395.0,361.0 397.9,361.1 395.6,362.9 396.4,365.7 394.0,364.1 391.6,365.7 392.4,362.9 390.1,361.1 393.0,361.0"/>
<polygon points="394.6,361.2 395.6,363.9 398.5,364.0 396.2,365.8 397.0,368.6 394.6,367.0 392.2,368.6 393.0,365.8 390.7,364.0 393.6,363.9"/>
<polygon points="411.5,346.1 412.5,348.7 415.4,348.8 413.1,350.6 413.9,353.4 411.5,351.8 409.1,353.4 409.9,350.6 407.6,348.8 410.5,348.7"/>
<polygon points="429.4,339.1 430.4,341.7 433.3,341.8 431.0,343.6 431.8,346.4 429.4,344.8 427.0,346.4 427.8,343.6 425.5,341.8 428.4,341.7"/>
</g>
<line x1="313.1" y1="424.5" x2="429.4" y2="339.6" stroke="#ff0808" stroke-width="1.95" stroke-linecap="round"/>
<g fill="#5a0db3">
<polygon points="491.7,447.3 492.7,450.0 495.6,450.1 493.3,451.9 494.1,454.7 491.7,453.1 489.3,454.7 490.1,451.9 487.8,450.1 490.7,450.0"/>
<polygon points="504.0,437.8 505.0,440.4 507.9,440.5 505.6,442.3 506.4,445.1 504.0,443.5 501.6,445.1 502.4,442.3 500.1,440.5 503.0,440.4"/>
<polygon points="507.8,430.4 508.8,433.1 511.7,433.2 509.4,435.0 510.2,437.8 507.8,436.2 505.4,437.8 506.2,435.0 503.9,433.2 506.8,433.1"/>
<polygon points="511.9,434.8 512.9,437.5 515.8,437.6 513.5,439.4 514.3,442.2 511.9,440.6 509.5,442.2 510.3,439.4 508.0,437.6 510.9,437.5"/>
<polygon points="522.1,414.9 523.1,417.6 526.0,417.7 523.7,419.5 524.5,422.3 522.1,420.7 519.7,422.3 520.5,419.5 518.2,417.7 521.1,417.6"/>
<polygon points="531.7,407.6 532.7,410.3 535.6,410.4 533.3,412.2 534.1,415.0 531.7,413.4 529.3,415.0 530.1,412.2 527.8,410.4 530.7,410.3"/>
<polygon points="548.4,404.8 549.4,407.4 552.3,407.5 550.0,409.3 550.8,412.1 548.4,410.5 546.0,412.1 546.8,409.3 544.5,407.5 547.4,407.4"/>
<polygon points="560.9,391.6 561.9,394.3 564.8,394.4 562.5,396.2 563.3,399.0 560.9,397.4 558.5,399.0 559.3,396.2 557.0,394.4 559.9,394.3"/>
<polygon points="568.2,379.3 569.2,382.0 572.1,382.1 569.8,383.9 570.6,386.7 568.2,385.1 565.8,386.7 566.6,383.9 564.3,382.1 567.2,382.0"/>
<polygon points="570.6,382.8 571.6,385.5 574.5,385.6 572.2,387.4 573.0,390.2 570.6,388.6 568.2,390.2 569.0,387.4 566.7,385.6 569.6,385.5"/>
<polygon points="580.5,369.8 581.5,372.4 584.4,372.5 582.1,374.3 582.9,377.1 580.5,375.5 578.1,377.1 578.9,374.3 576.6,372.5 579.5,372.4"/>
<polygon points="584.0,381.6 585.0,384.3 587.9,384.4 585.6,386.2 586.4,389.0 584.0,387.4 581.6,389.0 582.4,386.2 580.1,384.4 583.0,384.3"/>
<polygon points="598.0,362.4 599.0,365.1 601.9,365.2 599.6,367.0 600.4,369.8 598.0,368.2 595.6,369.8 596.4,367.0 594.1,365.2 597.0,365.1"/>
<polygon points="605.9,356.6 606.9,359.2 609.8,359.3 607.5,361.1 608.3,363.9 605.9,362.3 603.5,363.9 604.3,361.1 602.0,359.3 604.9,359.2"/>
<polygon points="611.4,355.1 612.4,357.8 615.3,357.9 613.0,359.7 613.8,362.5 611.4,360.9 609.0,362.5 609.8,359.7 607.5,357.9 610.4,357.8"/>
<polygon points="613.5,351.3 614.5,354.0 617.4,354.1 615.1,355.9 615.9,358.7 613.5,357.1 611.1,358.7 611.9,355.9 609.6,354.1 612.5,354.0"/>
<polygon points="617.3,350.1 618.3,352.8 621.2,352.9 618.9,354.7 619.7,357.5 617.3,355.9 614.9,357.5 615.7,354.7 613.4,352.9 616.3,352.8"/>
<polygon points="626.0,346.6 627.0,349.3 629.9,349.4 627.6,351.2 628.4,354.0 626.0,352.4 623.6,354.0 624.4,351.2 622.1,349.4 625.0,349.3"/>
<polygon points="630.4,346.6 631.4,349.3 634.3,349.4 632.0,351.2 632.8,354.0 630.4,352.4 628.0,354.0 628.8,351.2 626.5,349.4 629.4,349.3"/>
<polygon points="640.4,339.1 641.4,341.7 644.3,341.8 642.0,343.6 642.8,346.4 640.4,344.8 638.0,346.4 638.8,343.6 636.5,341.8 639.4,341.7"/>
</g>
<line x1="491.2" y1="447.0" x2="640.9" y2="337.6" stroke="#ff0808" stroke-width="1.95" stroke-linecap="round"/>
<g fill="#5a0db3">
<polygon points="91.1,576.1 92.1,578.7 95.0,578.8 92.7,580.6 93.5,583.4 91.1,581.8 88.7,583.4 89.5,580.6 87.2,578.8 90.1,578.7"/>
<polygon points="99.5,568.0 100.5,570.6 103.4,570.7 101.1,572.5 101.9,575.3 99.5,573.7 97.1,575.3 97.9,572.5 95.6,570.7 98.5,570.6"/>
<polygon points="105.1,557.8 106.1,560.4 109.0,560.5 106.7,562.3 107.5,565.1 105.1,563.5 102.7,565.1 103.5,562.3 101.2,560.5 104.1,560.4"/>
<polygon points="115.0,552.5 116.0,555.1 118.9,555.2 116.6,557.0 117.4,559.8 115.0,558.2 112.6,559.8 113.4,557.0 111.1,555.2 114.0,555.1"/>
<polygon points="124.9,546.1 125.9,548.7 128.8,548.8 126.5,550.6 127.3,553.4 124.9,551.8 122.5,553.4 123.3,550.6 121.0,548.8 123.9,548.7"/>
<polygon points="135.4,539.6 136.4,542.2 139.3,542.3 137.0,544.1 137.8,546.9 135.4,545.3 133.0,546.9 133.8,544.1 131.5,542.3 134.4,542.2"/>
<polygon points="145.4,530.2 146.4,532.9 149.3,533.0 147.0,534.8 147.8,537.6 145.4,536.0 143.0,537.6 143.8,534.8 141.5,533.0 144.4,532.9"/>
<polygon points="145.6,533.8 146.6,536.4 149.5,536.5 147.2,538.3 148.0,541.1 145.6,539.5 143.2,541.1 144.0,538.3 141.7,536.5 144.6,536.4"/>
<polygon points="155.9,528.6 156.9,531.2 159.8,531.3 157.5,533.1 158.3,535.9 155.9,534.3 153.5,535.9 154.3,533.1 152.0,531.3 154.9,531.2"/>
<polygon points="164.6,523.6 165.6,526.2 168.5,526.3 166.2,528.1 167.0,530.9 164.6,529.3 162.2,530.9 163.0,528.1 160.7,526.3 163.6,526.2"/>
<polygon points="173.4,519.2 174.4,521.8 177.3,521.9 175.0,523.7 175.8,526.5 173.4,524.9 171.0,526.5 171.8,523.7 169.5,521.9 172.4,521.8"/>
<polygon points="177.8,514.5 178.8,517.1 181.7,517.2 179.4,519.0 180.2,521.8 177.8,520.2 175.4,521.8 176.2,519.0 173.9,517.2 176.8,517.1"/>
<polygon points="182.7,514.0 183.7,516.6 186.6,516.7 184.3,518.5 185.1,521.3 182.7,519.7 180.3,521.3 181.1,518.5 178.8,516.7 181.7,516.6"/>
<polygon points="190.9,508.9 191.9,511.6 194.8,511.7 192.5,513.5 193.3,516.3 190.9,514.7 188.5,516.3 189.3,513.5 187.0,511.7 189.9,511.6"/>
<polygon points="199.1,504.6 200.1,507.2 203.0,507.3 200.7,509.1 201.5,511.9 199.1,510.3 196.7,511.9 197.5,509.1 195.2,507.3 198.1,507.2"/>
<polygon points="207.0,500.8 208.0,503.4 210.9,503.5 208.6,505.3 209.4,508.1 207.0,506.5 204.6,508.1 205.4,505.3 203.1,503.5 206.0,503.4"/>
<polygon points="209.0,498.4 210.0,501.1 212.9,501.2 210.6,503.0 211.4,505.8 209.0,504.2 206.6,505.8 207.4,503.0 205.1,501.2 208.0,501.1"/>
<polygon points="212.8,496.3 213.8,499.0 216.7,499.1 214.4,500.9 215.2,503.7 212.8,502.1 210.4,503.7 211.2,500.9 208.9,499.1 211.8,499.0"/>
<polygon points="218.4,494.6 219.4,497.3 222.3,497.4 220.0,499.2 220.8,502.0 218.4,500.4 216.0,502.0 216.8,499.2 214.5,497.4 217.4,497.3"/>
</g>
<line x1="91.1" y1="573.4" x2="218.4" y2="496.9" stroke="#ff0808" stroke-width="1.95" stroke-linecap="round"/>
<g stroke="#111" stroke-width="1.15" fill="none">
<line x1="253.5" y1="6.0" x2="253.5" y2="473.0"/>
<line x1="464.5" y1="6.0" x2="464.5" y2="473.0"/>
<line x1="253.5" y1="473.0" x2="253.5" y2="629.0"/>
<line x1="675.5" y1="5.1" x2="675.5" y2="473.9"/>
<line x1="42.0" y1="161.5" x2="675.5" y2="161.5"/>
<line x1="42.0" y1="317.5" x2="675.5" y2="317.5"/>
<line x1="41.1" y1="628.5" x2="253.5" y2="628.5"/>
<line x1="42.0" y1="135.6" x2="45.6" y2="135.6"/>
<line x1="77.2" y1="161.5" x2="77.2" y2="157.9"/>
<line x1="42.0" y1="109.7" x2="45.6" y2="109.7"/>
<line x1="112.5" y1="161.5" x2="112.5" y2="157.9"/>
<line x1="42.0" y1="83.7" x2="45.6" y2="83.7"/>
<line x1="147.8" y1="161.5" x2="147.8" y2="157.9"/>
<line x1="42.0" y1="57.8" x2="45.6" y2="57.8"/>
<line x1="183.0" y1="161.5" x2="183.0" y2="157.9"/>
<line x1="42.0" y1="31.9" x2="45.6" y2="31.9"/>
<line x1="218.2" y1="161.5" x2="218.2" y2="157.9"/>
<line x1="253.5" y1="135.6" x2="257.1" y2="135.6"/>
<line x1="288.7" y1="161.5" x2="288.7" y2="157.9"/>
<line x1="253.5" y1="109.7" x2="257.1" y2="109.7"/>
<line x1="323.8" y1="161.5" x2="323.8" y2="157.9"/>
<line x1="253.5" y1="83.7" x2="257.1" y2="83.7"/>
<line x1="359.0" y1="161.5" x2="359.0" y2="157.9"/>
<line x1="253.5" y1="57.8" x2="257.1" y2="57.8"/>
<line x1="394.2" y1="161.5" x2="394.2" y2="157.9"/>
<line x1="253.5" y1="31.9" x2="257.1" y2="31.9"/>
<line x1="429.3" y1="161.5" x2="429.3" y2="157.9"/>
<line x1="464.5" y1="135.6" x2="468.1" y2="135.6"/>
<line x1="499.7" y1="161.5" x2="499.7" y2="157.9"/>
<line x1="464.5" y1="109.7" x2="468.1" y2="109.7"/>
<line x1="534.8" y1="161.5" x2="534.8" y2="157.9"/>
<line x1="464.5" y1="83.7" x2="468.1" y2="83.7"/>
<line x1="570.0" y1="161.5" x2="570.0" y2="157.9"/>
<line x1="464.5" y1="57.8" x2="468.1" y2="57.8"/>
<line x1="605.2" y1="161.5" x2="605.2" y2="157.9"/>
<line x1="464.5" y1="31.9" x2="468.1" y2="31.9"/>
<line x1="640.3" y1="161.5" x2="640.3" y2="157.9"/>
<line x1="42.0" y1="291.5" x2="45.6" y2="291.5"/>
<line x1="77.2" y1="317.5" x2="77.2" y2="313.9"/>
<line x1="42.0" y1="265.5" x2="45.6" y2="265.5"/>
<line x1="112.5" y1="317.5" x2="112.5" y2="313.9"/>
<line x1="42.0" y1="239.5" x2="45.6" y2="239.5"/>
<line x1="147.8" y1="317.5" x2="147.8" y2="313.9"/>
<line x1="42.0" y1="213.5" x2="45.6" y2="213.5"/>
<line x1="183.0" y1="317.5" x2="183.0" y2="313.9"/>
<line x1="42.0" y1="187.5" x2="45.6" y2="187.5"/>
<line x1="218.2" y1="317.5" x2="218.2" y2="313.9"/>
<line x1="253.5" y1="291.5" x2="257.1" y2="291.5"/>
<line x1="288.7" y1="317.5" x2="288.7" y2="313.9"/>
<line x1="253.5" y1="265.5" x2="257.1" y2="265.5"/>
<line x1="323.8" y1="317.5" x2="323.8" y2="313.9"/>
<line x1="253.5" y1="239.5" x2="257.1" y2="239.5"/>
<line x1="359.0" y1="317.5" x2="359.0" y2="313.9"/>
<line x1="253.5" y1="213.5" x2="257.1" y2="213.5"/>
<line x1="394.2" y1="317.5" x2="394.2" y2="313.9"/>
<line x1="253.5" y1="187.5" x2="257.1" y2="187.5"/>
<line x1="429.3" y1="317.5" x2="429.3" y2="313.9"/>
<line x1="464.5" y1="291.5" x2="468.1" y2="291.5"/>
<line x1="499.7" y1="317.5" x2="499.7" y2="313.9"/>
<line x1="464.5" y1="265.5" x2="468.1" y2="265.5"/>
<line x1="534.8" y1="317.5" x2="534.8" y2="313.9"/>
<line x1="464.5" y1="239.5" x2="468.1" y2="239.5"/>
<line x1="570.0" y1="317.5" x2="570.0" y2="313.9"/>
<line x1="464.5" y1="213.5" x2="468.1" y2="213.5"/>
<line x1="605.2" y1="317.5" x2="605.2" y2="313.9"/>
<line x1="464.5" y1="187.5" x2="468.1" y2="187.5"/>
<line x1="640.3" y1="317.5" x2="640.3" y2="313.9"/>
<line x1="42.0" y1="447.1" x2="45.6" y2="447.1"/>
<line x1="77.2" y1="473.0" x2="77.2" y2="469.4"/>
<line x1="42.0" y1="421.2" x2="45.6" y2="421.2"/>
<line x1="112.5" y1="473.0" x2="112.5" y2="469.4"/>
<line x1="42.0" y1="395.2" x2="45.6" y2="395.2"/>
<line x1="147.8" y1="473.0" x2="147.8" y2="469.4"/>
<line x1="42.0" y1="369.3" x2="45.6" y2="369.3"/>
<line x1="183.0" y1="473.0" x2="183.0" y2="469.4"/>
<line x1="42.0" y1="343.4" x2="45.6" y2="343.4"/>
<line x1="218.2" y1="473.0" x2="218.2" y2="469.4"/>
<line x1="253.5" y1="447.1" x2="257.1" y2="447.1"/>
<line x1="288.7" y1="473.0" x2="288.7" y2="469.4"/>
<line x1="253.5" y1="421.2" x2="257.1" y2="421.2"/>
<line x1="323.8" y1="473.0" x2="323.8" y2="469.4"/>
<line x1="253.5" y1="395.2" x2="257.1" y2="395.2"/>
<line x1="359.0" y1="473.0" x2="359.0" y2="469.4"/>
<line x1="253.5" y1="369.3" x2="257.1" y2="369.3"/>
<line x1="394.2" y1="473.0" x2="394.2" y2="469.4"/>
<line x1="253.5" y1="343.4" x2="257.1" y2="343.4"/>
<line x1="429.3" y1="473.0" x2="429.3" y2="469.4"/>
<line x1="464.5" y1="447.1" x2="468.1" y2="447.1"/>
<line x1="499.7" y1="473.0" x2="499.7" y2="469.4"/>
<line x1="464.5" y1="421.2" x2="468.1" y2="421.2"/>
<line x1="534.8" y1="473.0" x2="534.8" y2="469.4"/>
<line x1="464.5" y1="395.2" x2="468.1" y2="395.2"/>
<line x1="570.0" y1="473.0" x2="570.0" y2="469.4"/>
<line x1="464.5" y1="369.3" x2="468.1" y2="369.3"/>
<line x1="605.2" y1="473.0" x2="605.2" y2="469.4"/>
<line x1="464.5" y1="343.4" x2="468.1" y2="343.4"/>
<line x1="640.3" y1="473.0" x2="640.3" y2="469.4"/>
<line x1="42.0" y1="602.6" x2="45.6" y2="602.6"/>
<line x1="77.2" y1="628.5" x2="77.2" y2="624.9"/>
<line x1="42.0" y1="576.7" x2="45.6" y2="576.7"/>
<line x1="112.5" y1="628.5" x2="112.5" y2="624.9"/>
<line x1="42.0" y1="550.8" x2="45.6" y2="550.8"/>
<line x1="147.8" y1="628.5" x2="147.8" y2="624.9"/>
<line x1="42.0" y1="524.8" x2="45.6" y2="524.8"/>
<line x1="183.0" y1="628.5" x2="183.0" y2="624.9"/>
<line x1="42.0" y1="498.9" x2="45.6" y2="498.9"/>
<line x1="218.2" y1="628.5" x2="218.2" y2="624.9"/>
</g>
<g stroke="#383838" stroke-width="1.3" fill="none">
<line x1="41.1" y1="6.0" x2="676.0" y2="6.0"/>
<line x1="42.0" y1="6.0" x2="42.0" y2="628.5"/>
<line x1="42.0" y1="473.0" x2="675.5" y2="473.0"/>
</g>
<g fill="#5a0db3"><polygon points="65.4,9.4 66.4,12.0 69.3,12.1 67.0,13.9 67.8,16.7 65.4,15.1 63.0,16.7 63.8,13.9 61.5,12.1 64.4,12.0"/></g>
<line x1="50" y1="30.2" x2="81" y2="30.2" stroke="#ff0808" stroke-width="1.95" stroke-linecap="round"/>
</svg>
<div class="t tky" style="left:38.1px;top:154.2px;transform:translateX(-100%);">0.0</div>
<div class="t tky" style="left:38.1px;top:128.3px;transform:translateX(-100%);">0.2</div>
<div class="t tky" style="left:38.1px;top:102.3px;transform:translateX(-100%);">0.4</div>
<div class="t tky" style="left:38.1px;top:76.4px;transform:translateX(-100%);">0.6</div>
<div class="t tky" style="left:38.1px;top:50.5px;transform:translateX(-100%);">0.8</div>
<div class="t tky" style="left:38.1px;top:24.5px;transform:translateX(-100%);">1.0</div>
<div class="t tky" style="left:38.1px;top:-1.4px;transform:translateX(-100%);">1.2</div>
<div class="t tky" style="left:38.1px;top:310.2px;transform:translateX(-100%);">0.0</div>
<div class="t tky" style="left:38.1px;top:284.3px;transform:translateX(-100%);">0.2</div>
<div class="t tky" style="left:38.1px;top:258.3px;transform:translateX(-100%);">0.4</div>
<div class="t tky" style="left:38.1px;top:232.4px;transform:translateX(-100%);">0.6</div>
<div class="t tky" style="left:38.1px;top:206.4px;transform:translateX(-100%);">0.8</div>
<div class="t tky" style="left:38.1px;top:180.5px;transform:translateX(-100%);">1.0</div>
<div class="t tky" style="left:38.1px;top:465.7px;transform:translateX(-100%);">0.0</div>
<div class="t tky" style="left:38.1px;top:439.8px;transform:translateX(-100%);">0.2</div>
<div class="t tky" style="left:38.1px;top:413.8px;transform:translateX(-100%);">0.4</div>
<div class="t tky" style="left:38.1px;top:387.9px;transform:translateX(-100%);">0.6</div>
<div class="t tky" style="left:38.1px;top:361.9px;transform:translateX(-100%);">0.8</div>
<div class="t tky" style="left:38.1px;top:336.0px;transform:translateX(-100%);">1.0</div>
<div class="t tky" style="left:38.1px;top:621.2px;transform:translateX(-100%);">0.0</div>
<div class="t tky" style="left:38.1px;top:595.3px;transform:translateX(-100%);">0.2</div>
<div class="t tky" style="left:38.1px;top:569.3px;transform:translateX(-100%);">0.4</div>
<div class="t tky" style="left:38.1px;top:543.4px;transform:translateX(-100%);">0.6</div>
<div class="t tky" style="left:38.1px;top:517.5px;transform:translateX(-100%);">0.8</div>
<div class="t tky" style="left:38.1px;top:491.5px;transform:translateX(-100%);">1.0</div>
<div class="t tkx" style="left:42.0px;top:630.4px;transform:translateX(-50%) scaleX(0.9);">0.0</div>
<div class="t tkx" style="left:77.2px;top:630.4px;transform:translateX(-50%) scaleX(0.9);">0.2</div>
<div class="t tkx" style="left:112.4px;top:630.4px;transform:translateX(-50%) scaleX(0.9);">0.4</div>
<div class="t tkx" style="left:147.6px;top:630.4px;transform:translateX(-50%) scaleX(0.9);">0.6</div>
<div class="t tkx" style="left:182.8px;top:630.4px;transform:translateX(-50%) scaleX(0.9);">0.8</div>
<div class="t tkx" style="left:218.0px;top:630.4px;transform:translateX(-50%) scaleX(0.9);">1.0</div>
<div class="t tkx" style="left:253.2px;top:630.4px;transform:translateX(-50%) scaleX(0.9);">1.2</div>
<div class="t ax xt" style="left:147.1px;top:651.0px;transform:translateX(-50%);"><i>R</i><sub><i>CGDD</i></sub> (°C·°C<sup>-1</sup>)</div>
<div class="t tkx" style="left:288.7px;top:474.9px;transform:translateX(-50%) scaleX(0.9);">0.2</div>
<div class="t tkx" style="left:323.9px;top:474.9px;transform:translateX(-50%) scaleX(0.9);">0.4</div>
<div class="t tkx" style="left:359.1px;top:474.9px;transform:translateX(-50%) scaleX(0.9);">0.6</div>
<div class="t tkx" style="left:394.3px;top:474.9px;transform:translateX(-50%) scaleX(0.9);">0.8</div>
<div class="t tkx" style="left:429.5px;top:474.9px;transform:translateX(-50%) scaleX(0.9);">1.0</div>
<div class="t ax xt" style="left:359.1px;top:498.5px;transform:translateX(-50%);"><i>R</i><sub><i>CGDD</i></sub> (°C·°C<sup>-1</sup>)</div>
<div class="t tkx" style="left:464.5px;top:474.9px;transform:translateX(-50%) scaleX(0.9);">0.0</div>
<div class="t tkx" style="left:499.7px;top:474.9px;transform:translateX(-50%) scaleX(0.9);">0.2</div>
<div class="t tkx" style="left:534.9px;top:474.9px;transform:translateX(-50%) scaleX(0.9);">0.4</div>
<div class="t tkx" style="left:570.1px;top:474.9px;transform:translateX(-50%) scaleX(0.9);">0.6</div>
<div class="t tkx" style="left:605.3px;top:474.9px;transform:translateX(-50%) scaleX(0.9);">0.8</div>
<div class="t tkx" style="left:640.5px;top:474.9px;transform:translateX(-50%) scaleX(0.9);">1.0</div>
<div class="t tkx" style="left:675.7px;top:474.9px;transform:translateX(-50%) scaleX(0.9);">1.2</div>
<div class="t ax xt" style="left:570.1px;top:498.5px;transform:translateX(-50%);"><i>R</i><sub><i>CGDD</i></sub> (°C·°C<sup>-1</sup>)</div>
<div class="t ax" style="left:10.1px;top:83.2px;transform:translate(-50%,-50%) rotate(-90deg);"><i>R</i><sub class="ys"><i>CETo</i></sub><span style="margin-left:1.4px">(mm·mm<sup>-1</sup>)</span></div>
<div class="t ax" style="left:10.1px;top:238.9px;transform:translate(-50%,-50%) rotate(-90deg);"><i>R</i><sub class="ys"><i>CETo</i></sub><span style="margin-left:1.4px">(mm·mm<sup>-1</sup>)</span></div>
<div class="t ax" style="left:10.1px;top:394.6px;transform:translate(-50%,-50%) rotate(-90deg);"><i>R</i><sub class="ys"><i>CETo</i></sub><span style="margin-left:1.4px">(mm·mm<sup>-1</sup>)</span></div>
<div class="t ax" style="left:10.1px;top:550.1px;transform:translate(-50%,-50%) rotate(-90deg);"><i>R</i><sub class="ys"><i>CETo</i></sub><span style="margin-left:1.4px">(mm·mm<sup>-1</sup>)</span></div>
<div class="t nm" style="left:243.0px;top:6.4px;transform:translateX(-100%);">Korla</div>
<div class="t eq" style="left:249.9px;top:119.3px;transform:translateX(-100%) scaleX(0.925);"><i>R</i><sub class="s1 s1a"><i>CET<sub class="s2">o</sub></i></sub><span class="op1">=</span>0.9328<i class="r2i">R</i><sub class="s1 s1b"><i>CGDD</i></sub><span class="op2">+</span>0.0559</div>
<div class="t nm r2" style="left:241.8px;top:140.9px;transform:translateX(-100%);"><i>R</i><sup>2</sup>=0.980</div>
<div class="t nm" style="left:454.0px;top:6.6px;transform:translateX(-100%);">Akesu</div>
<div class="t eq" style="left:462.2px;top:119.3px;transform:translateX(-100%) scaleX(0.925);"><i>R</i><sub class="s1 s1a"><i>CET<sub class="s2">o</sub></i></sub><span class="op1">=</span>0.9923<i class="r2i">R</i><sub class="s1 s1b"><i>CGDD</i></sub><span class="op2">+</span>0.0304</div>
<div class="t nm r2" style="left:452.8px;top:140.9px;transform:translateX(-100%);"><i>R</i><sup>2</sup>=0.980</div>
<div class="t nm" style="left:665.8px;top:6.9px;transform:translateX(-100%);">Shihezi</div>
<div class="t eq" style="left:672.2px;top:119.3px;transform:translateX(-100%) scaleX(0.925);"><i>R</i><sub class="s1 s1a"><i>CET<sub class="s2">o</sub></i></sub><span class="op1">=</span>0.9509<i class="r2i">R</i><sub class="s1 s1b"><i>CGDD</i></sub><span class="op2">+</span>0.0464</div>
<div class="t nm r2" style="left:663.8px;top:140.9px;transform:translateX(-100%);"><i>R</i><sup>2</sup>=0.976</div>
<div class="t nm" style="left:243.8px;top:162.1px;transform:translateX(-100%);">Changji</div>
<div class="t eq" style="left:250.5px;top:275.3px;transform:translateX(-100%) scaleX(0.925);"><i>R</i><sub class="s1 s1a"><i>CET<sub class="s2">o</sub></i></sub><span class="op1">=</span>0.9658<i class="r2i">R</i><sub class="s1 s1b"><i>CGDD</i></sub><span class="op2">+</span>0.0758</div>
<div class="t nm r2" style="left:241.8px;top:296.9px;transform:translateX(-100%);"><i>R</i><sup>2</sup>=0.987</div>
<div class="t nm" style="left:454.7px;top:162.1px;transform:translateX(-100%);">Urumqi</div>
<div class="t eq" style="left:462.6px;top:275.3px;transform:translateX(-100%) scaleX(0.925);"><i>R</i><sub class="s1 s1a"><i>CET<sub class="s2">o</sub></i></sub><span class="op1">=</span>0.921<i class="r2i">R</i><sub class="s1 s1b"><i>CGDD</i></sub><span class="op2">+</span>0.0866</div>
<div class="t nm r2" style="left:452.8px;top:296.9px;transform:translateX(-100%);"><i>R</i><sup>2</sup>=0.996</div>
<div class="t nm" style="left:666.0px;top:162.1px;transform:translateX(-100%);">Karamay</div>
<div class="t eq" style="left:673.2px;top:275.3px;transform:translateX(-100%) scaleX(0.925);"><i>R</i><sub class="s1 s1a"><i>CET<sub class="s2">o</sub></i></sub><span class="op1">=</span>1.116<i class="r2i">R</i><sub class="s1 s1b"><i>CGDD</i></sub><span class="op2">+</span>0.0138</div>
<div class="t nm r2" style="left:663.8px;top:296.9px;transform:translateX(-100%);"><i>R</i><sup>2</sup>=0.985</div>
<div class="t nm" style="left:242.5px;top:317.0px;transform:translateX(-100%);">Liaoning</div>
<div class="t eq" style="left:250.7px;top:430.8px;transform:translateX(-100%) scaleX(0.925);"><i>R</i><sub class="s1 s1a"><i>CET<sub class="s2">o</sub></i></sub><span class="op1">=</span>0.8862<i class="r2i">R</i><sub class="s1 s1b"><i>CGDD</i></sub><span class="op2">+</span>0.0916</div>
<div class="t nm r2" style="left:241.8px;top:452.4px;transform:translateX(-100%);"><i>R</i><sup>2</sup>=0.985</div>
<div class="t nm" style="left:454.6px;top:317.0px;transform:translateX(-100%);">Hubei</div>
<div class="t eq" style="left:462.2px;top:430.8px;transform:translateX(-100%) scaleX(0.925);"><i>R</i><sub class="s1 s1a"><i>CET<sub class="s2">o</sub></i></sub><span class="op1">=</span>1.03<i class="r2i">R</i><sub class="s1 s1b"><i>CGDD</i></sub><span class="op2">+</span>0.0162</div>
<div class="t nm r2" style="left:452.8px;top:452.4px;transform:translateX(-100%);"><i>R</i><sup>2</sup>=0.992</div>
<div class="t nm" style="left:666.0px;top:317.0px;transform:translateX(-100%);">He'nan</div>
<div class="t eq" style="left:672.7px;top:430.8px;transform:translateX(-100%) scaleX(0.925);"><i>R</i><sub class="s1 s1a"><i>CET<sub class="s2">o</sub></i></sub><span class="op1">=</span>0.9901<i class="r2i">R</i><sub class="s1 s1b"><i>CGDD</i></sub><span class="op2">+</span>0.0476</div>
<div class="t nm r2" style="left:663.8px;top:452.4px;transform:translateX(-100%);"><i>R</i><sup>2</sup>=0.984</div>
<div class="t nm" style="left:243.6px;top:473.6px;transform:translateX(-100%);">Hebei</div>
<div class="t eq" style="left:250.7px;top:586.3px;transform:translateX(-100%) scaleX(0.925);"><i>R</i><sub class="s1 s1a"><i>CET<sub class="s2">o</sub></i></sub><span class="op1">=</span>0.816<i class="r2i">R</i><sub class="s1 s1b"><i>CGDD</i></sub><span class="op2">+</span>0.1996</div>
<div class="t nm r2" style="left:241.8px;top:607.9px;transform:translateX(-100%);"><i>R</i><sup>2</sup>=0.986</div>
<div class="t nm" style="left:84.5px;top:6.0px;">Measured value</div>
<div class="t nm" style="left:84.5px;top:22.9px;">Fitted curve</div>
</body></html>
